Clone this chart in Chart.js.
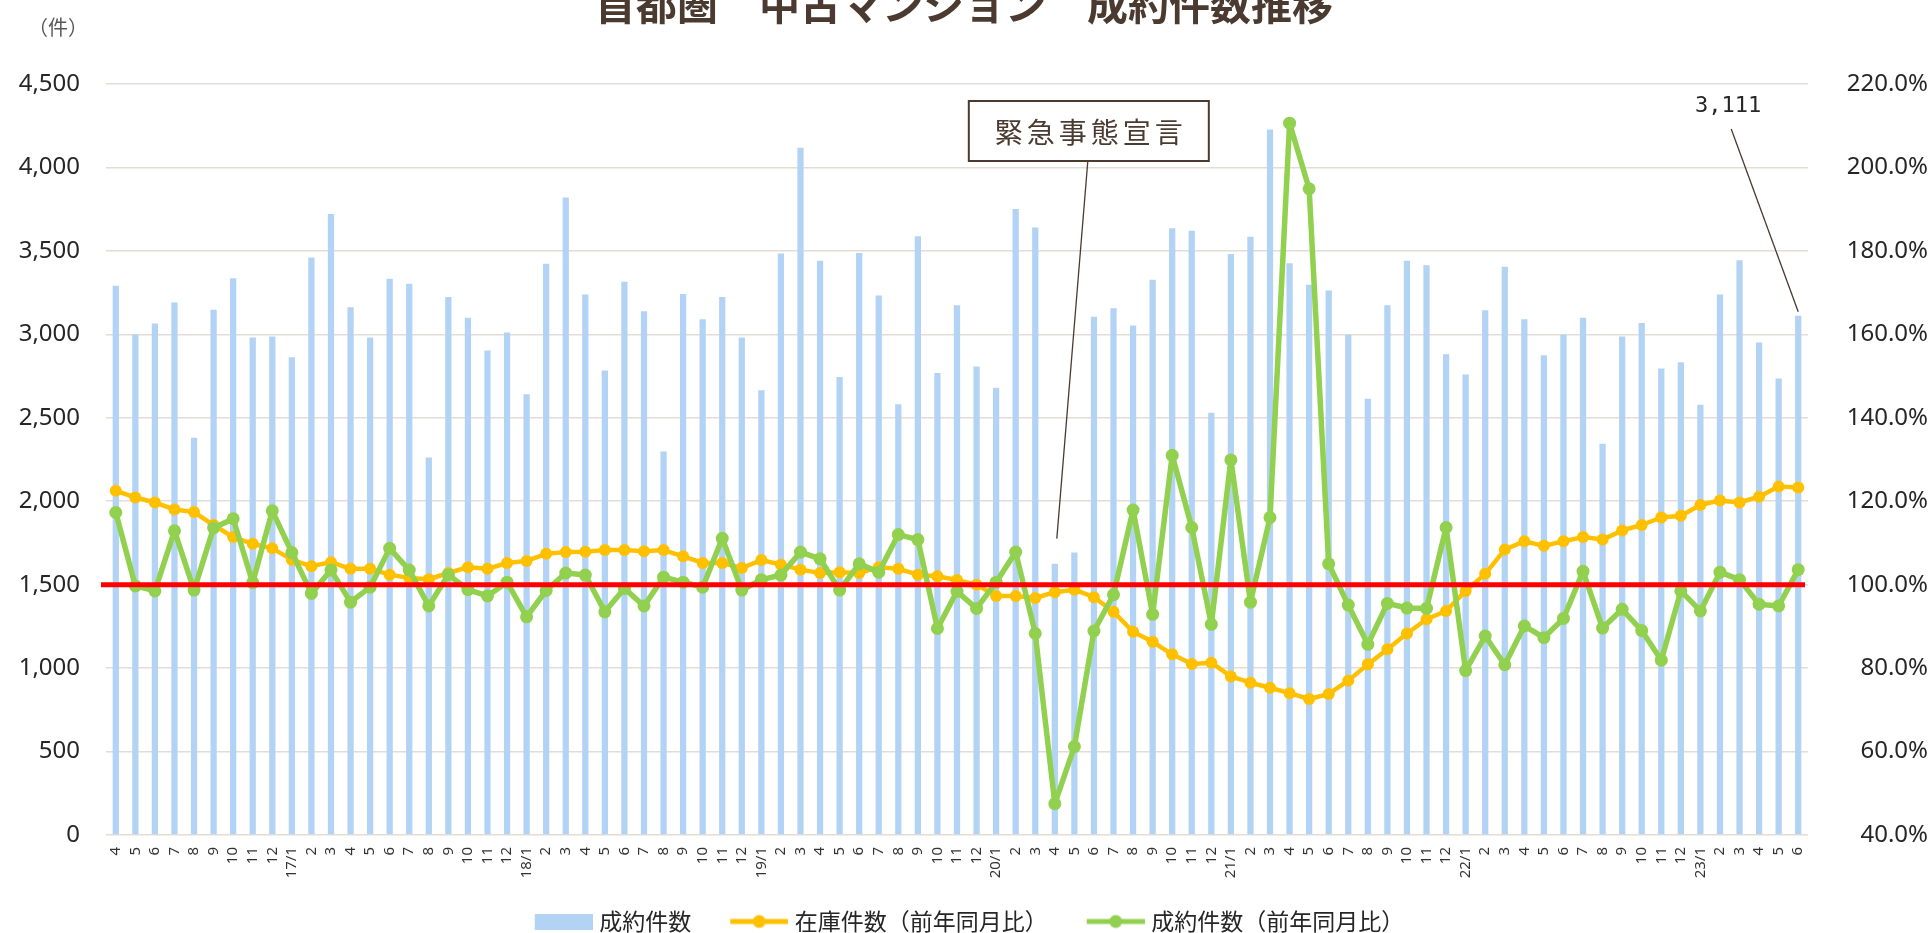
<!DOCTYPE html>
<html><head><meta charset="utf-8">
<script src="https://cdn.jsdelivr.net/npm/chart.js@4.4.0/dist/chart.umd.min.js"></script>
<style>
html,body{margin:0;padding:0;overflow:hidden;background:#fff;width:1928px;height:933px;}
#wrap{position:absolute;left:0;top:-30px;width:1928px;height:983px;}
</style></head><body>
<div id="wrap"><canvas id="c"></canvas></div>
<script>
// ---- data ----
const categories = [
 '4','5','6','7','8','9','10','11','12',
 '17/1','2','3','4','5','6','7','8','9','10','11','12',
 '18/1','2','3','4','5','6','7','8','9','10','11','12',
 '19/1','2','3','4','5','6','7','8','9','10','11','12',
 '20/1','2','3','4','5','6','7','8','9','10','11','12',
 '21/1','2','3','4','5','6','7','8','9','10','11','12',
 '22/1','2','3','4','5','6','7','8','9','10','11','12',
 '23/1','2','3','4','5','6'
];
const closedCount = [
 3291,2999,3065,3190,2381,3148,3336,2981,2987,
 2862,3461,3721,3163,2981,3333,3303,2262,3223,3100,2903,3011,
 2641,3423,3820,3238,2784,3315,3139,2298,3241,3091,3223,2981,
 2665,3485,4118,3441,2745,3488,3232,2581,3587,2769,3175,2808,
 2680,3751,3640,1626,1692,3106,3157,3053,3327,3635,3620,2530,
 3482,3584,4228,3426,3297,3262,2999,2614,3175,3441,3414,2880,
 2760,3145,3405,3091,2874,2999,3100,2345,2987,3068,2796,2832,
 2578,3238,3444,2951,2736,3111
];
const stockYoY = [
 122.5,120.9,119.7,118.0,117.4,114.3,111.4,109.8,108.7,
 106.0,104.4,105.4,103.8,103.8,102.4,101.6,101.3,102.8,104.2,103.8,105.2,
 105.7,107.4,107.8,107.9,108.3,108.3,108.0,108.3,106.8,105.2,105.2,104.0,
 105.9,104.8,103.6,102.8,103.0,102.8,104.2,103.8,102.4,102.0,101.1,100.0,
 97.3,97.3,96.8,98.2,98.8,97.0,93.5,88.7,86.3,83.3,81.0,81.3,
 78.0,76.5,75.3,74.0,72.6,73.8,77.0,80.9,84.5,88.3,91.7,93.7,
 98.5,102.6,108.4,110.4,109.3,110.4,111.4,110.8,113.0,114.3,116.1,116.5,
 119.1,120.2,119.7,121.1,123.5,123.3
];
const closedYoY = [
 117.3,99.7,98.5,112.9,98.7,113.6,115.8,100.5,117.7,
 107.7,97.9,103.5,95.8,99.4,108.7,103.5,94.9,102.4,98.8,97.3,100.6,
 92.3,98.6,102.8,102.3,93.5,99.1,94.9,101.8,100.6,99.4,111.1,98.7,
 101.2,102.3,107.8,106.2,98.7,105.0,103.0,112.0,110.8,89.5,98.4,94.3,
 100.6,107.8,88.3,47.5,61.2,88.9,97.6,117.9,92.9,131.0,113.7,90.5,
 129.9,95.8,116.1,210.6,194.9,105.0,95.1,85.7,95.5,94.4,94.3,113.7,
 79.4,87.7,80.8,90.1,87.3,91.9,103.2,89.6,94.1,89.0,81.9,98.5,
 93.7,103.0,101.2,95.3,94.9,103.6
];
const seriesNames = ['成約件数','在庫件数（前年同月比）','成約件数（前年同月比）'];
const leftAxis = {min:0, max:4500, step:500};
const rightAxis = {min:40, max:220, step:20};
const baselinePct = 100;
const emergencyNote = {index:48, text:'緊急事態宣言'};
const lastNote = {index:86, text:'3,111'};
const titleText = '首都圏　中古マンション　成約件数推移';
const unitText = '（件）';

// ---- styles ----
const C_BAR = '#B3D3F5', C_STOCK = '#FFC000', C_CLOSED = '#92D050', C_RED = '#FF0000';
const C_BROWN = '#4B3A2F';
const JP = '"Noto Sans CJK JP", "Noto Sans", sans-serif';
const OFF = 30; // canvas is shifted up by this many px

// legend icon: 74px wide image centred on a 64px legend box; visible part at right
function icon(kind, color){
  const cv = document.createElement('canvas');
  cv.width = 74; cv.height = 16;
  const g = cv.getContext('2d');
  const x0 = 16, x1 = 74;
  if (kind === 'bar') { g.fillStyle = color; g.fillRect(x0,0,x1-x0,16); }
  else {
    g.strokeStyle = color; g.lineWidth = 5;
    g.beginPath(); g.moveTo(x0,8); g.lineTo(x1,8); g.stroke();
    g.fillStyle = color; g.beginPath(); g.arc((x0+x1)/2,8,6.5,0,Math.PI*2); g.fill();
  }
  return cv;
}
const legendIcons = [icon('bar',C_BAR), icon('line',C_STOCK), icon('line',C_CLOSED)];

const refLinePlugin = {
  id:'refLine',
  afterDatasetsDraw(chart){
    const {ctx, chartArea:a, scales:{y1}} = chart;
    const y = y1.getPixelForValue(baselinePct);
    ctx.save();
    ctx.strokeStyle = C_RED; ctx.lineWidth = 5;
    ctx.beginPath(); ctx.moveTo(a.left-5, y); ctx.lineTo(a.right-3, y); ctx.stroke();
    ctx.restore();
  }
};

const notesPlugin = {
  id:'notes',
  afterDraw(chart){
    const {ctx, chartArea:a, scales:{x, y}} = chart;
    ctx.save();
    // unit label
    ctx.fillStyle = '#595959';
    ctx.font = '20px ' + JP;
    ctx.textAlign = 'center'; ctx.textBaseline = 'middle';
    ctx.fillText(unitText, 58, 27 + OFF);

    // emergency box
    const px = x.getPixelForValue(emergencyNote.index);
    const bL = px - 86, bW = 240, bT = a.top + 17, bH = 60;
    ctx.strokeStyle = C_BROWN; ctx.lineWidth = 1.3;
    ctx.beginPath();
    ctx.moveTo(px + 33, bT + bH);
    ctx.lineTo(px + 2, y.getPixelForValue(closedCount[emergencyNote.index]) - 25);
    ctx.stroke();
    ctx.fillStyle = '#fff'; ctx.fillRect(bL, bT, bW, bH);
    ctx.lineWidth = 2; ctx.strokeRect(bL, bT, bW, bH);
    ctx.fillStyle = C_BROWN;
    ctx.font = '28px ' + JP;
    ctx.textAlign = 'left';
    const sp = 4;
    const chars = [...emergencyNote.text];
    let w = 0; chars.forEach(ch => w += ctx.measureText(ch).width);
    w += sp*(chars.length-1);
    try { ctx.letterSpacing = sp + 'px'; } catch(e) {}
    ctx.fillText(emergencyNote.text, bL + bW/2 - w/2, bT + bH/2 + 1);
    try { ctx.letterSpacing = '0px'; } catch(e) {}

    // last value note
    const lx = x.getPixelForValue(lastNote.index);
    ctx.strokeStyle = C_BROWN; ctx.lineWidth = 1.3;
    ctx.beginPath();
    ctx.moveTo(lx - 67, a.top + 45);
    ctx.lineTo(lx, y.getPixelForValue(closedCount[lastNote.index]) - 4);
    ctx.stroke();
    ctx.fillStyle = '#262626';
    ctx.font = '22px "DejaVu Sans Mono", "Liberation Mono", monospace';
    ctx.textAlign = 'center';
    ctx.fillText(lastNote.text, lx - 70, a.top + 22);
    ctx.restore();
  }
};

const tickFont = {family:'"Noto Sans", sans-serif', size:24};

new Chart(document.getElementById('c'), {
  data:{
    labels: categories,
    datasets:[
      {type:'bar', label:seriesNames[0], data:closedCount, yAxisID:'y', order:3,
       backgroundColor:C_BAR, barPercentage:0.32, categoryPercentage:1.0},
      {type:'line', label:seriesNames[1], data:stockYoY, yAxisID:'y1', order:2,
       borderColor:C_STOCK, backgroundColor:C_STOCK, borderWidth:4.5,
       borderJoinStyle:'round', borderCapStyle:'round',
       pointRadius:6, pointBackgroundColor:C_STOCK, pointBorderWidth:0, tension:0},
      {type:'line', label:seriesNames[2], data:closedYoY, yAxisID:'y1', order:1,
       borderColor:C_CLOSED, backgroundColor:C_CLOSED, borderWidth:5.5,
       borderJoinStyle:'round', borderCapStyle:'round',
       pointRadius:6.5, pointBackgroundColor:C_CLOSED, pointBorderWidth:0, tension:0}
    ]
  },
  options:{
    responsive:true, maintainAspectRatio:false, animation:false,
    layout:{padding:{top:0,bottom:10,left:0,right:0}},
    plugins:{
      title:{display:true, text:titleText, color:C_BROWN,
        font:{family:JP, size:41, weight:'bold'}, padding:{top:10,bottom:54.8}},
      legend:{display:true, position:'bottom',
        labels:{usePointStyle:true, pointStyleWidth:64, padding:28,
          color:'#262626', font:{family:JP, size:23},
          generateLabels(chart){
            const items = Chart.defaults.plugins.legend.labels.generateLabels(chart);
            items.sort((p,q)=>p.datasetIndex-q.datasetIndex);
            items.forEach(it=>{ it.pointStyle = legendIcons[it.datasetIndex]; it.fontColor='#262626'; it.lineWidth=0; });
            return items;
          }}},
      tooltip:{enabled:false}
    },
    scales:{
      x:{type:'category', offset:true,
        grid:{display:false, drawTicks:false}, border:{display:false},
        ticks:{autoSkip:false, minRotation:90, maxRotation:90, padding:12,
          color:'#333', font:{family:'"Noto Sans", sans-serif', size:15}},
        afterFit(s){ s.height = 47; }},
      y:{type:'linear', position:'left', min:leftAxis.min, max:leftAxis.max,
        grid:{color:'#E3DDD6', lineWidth:1.5, drawTicks:false}, border:{display:false},
        ticks:{stepSize:leftAxis.step, padding:26, color:'#262626', font:tickFont,
          callback:v=>v.toLocaleString('en-US')},
        afterFit(s){ s.width = 106; }},
      y1:{type:'linear', position:'right', min:rightAxis.min, max:rightAxis.max,
        grid:{display:false, drawTicks:false}, border:{display:false},
        ticks:{stepSize:rightAxis.step, padding:12, crossAlign:'far', color:'#262626', font:tickFont,
          callback:v=>v.toFixed(1)+'%'},
        afterFit(s){ s.width = 120; }}
    }
  },
  plugins:[refLinePlugin, notesPlugin]
});
</script>
</body></html>
